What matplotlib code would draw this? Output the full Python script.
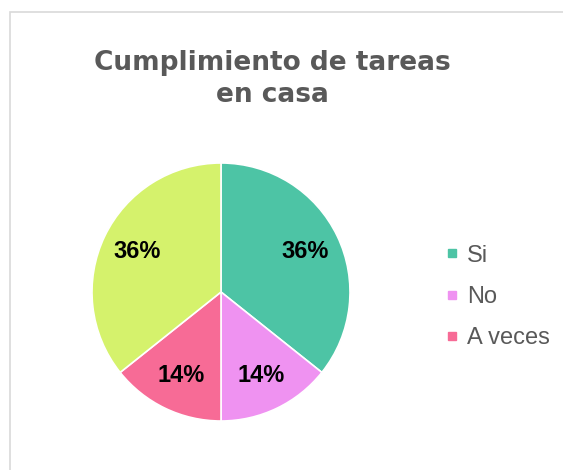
import matplotlib.pyplot as plt
import matplotlib.patches as patches
from matplotlib.lines import Line2D

# data
categories = ["Si", "No", "A veces", ""]
counts = [5, 2, 2, 5]
colors = ["#4DC4A5", "#EF92F1", "#F76B96", "#D5F26C"]

fig = plt.figure(figsize=(5.63, 4.70), dpi=100)

# chart frame
frame = patches.Rectangle((10 / 563, -0.05), 1.0, 1.0 - 12 / 470 + 0.05,
                          transform=fig.transFigure, fill=False,
                          edgecolor="#D9D9D9", linewidth=1.2)
fig.patches.append(frame)

fig.text(272 / 563, 1 - 79 / 470, "Cumplimiento de tareas\nen casa",
         ha="center", va="center", fontsize=19, fontweight="bold",
         color="#595959", linespacing=1.25, family="DejaVu Sans")

# pie axes: center (221, 292), radius ~128 px
r = 129
cx, cy = 221, 292
ax = fig.add_axes([(cx - r) / 563, 1 - (cy + r) / 470, 2 * r / 563, 2 * r / 470])

wedges, texts, autotexts = ax.pie(
    counts, colors=colors, startangle=90, counterclock=False,
    autopct="%1.0f%%", pctdistance=0.72,
    wedgeprops=dict(edgecolor="white", linewidth=1.2),
    textprops=dict(fontsize=17, fontweight="bold", color="black",
                   family="Liberation Sans"))
ax.set_aspect("equal")
ax.set_xlim(-1.0, 1.0)
ax.set_ylim(-1.0, 1.0)

handles = [Line2D([0], [0], marker="s", linestyle="", markersize=6,
                  markerfacecolor=c, markeredgecolor=c) for c in colors[:3]]
fig.legend(handles, categories[:3], loc="center left",
           bbox_to_anchor=(446 / 563, 1 - 297 / 470), frameon=False,
           prop=dict(family="Liberation Sans", size=17),
           labelcolor="#595959", handlelength=0.5, handletextpad=0.4,
           labelspacing=0.82, borderpad=0, borderaxespad=0)

fig.savefig("out.png", dpi=100)
